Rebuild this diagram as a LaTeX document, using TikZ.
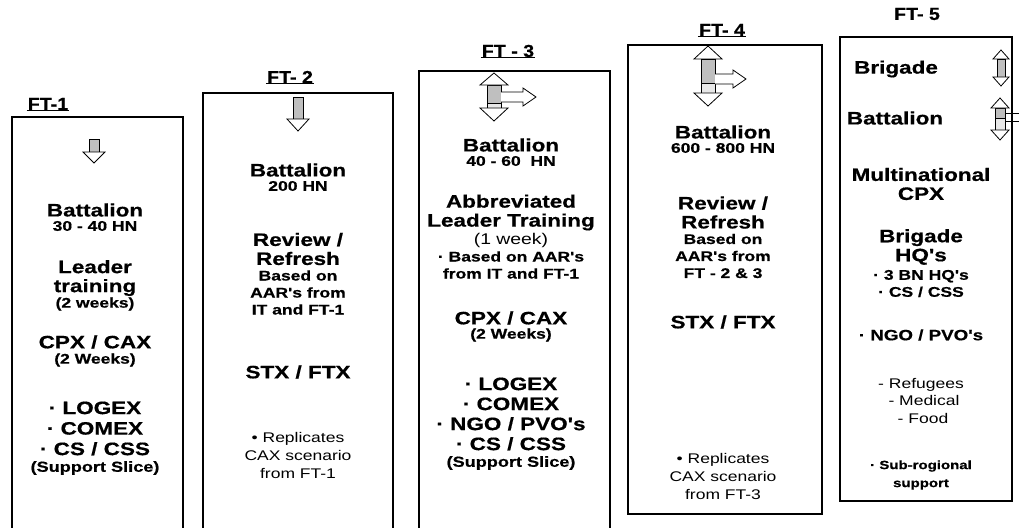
\documentclass[tikz,border=0pt]{standalone}
\usepackage{fontspec}
\setmainfont{Liberation Sans}
\newfontfamily\widesans[FakeStretch=1.25, BoldFeatures={FakeBold=0.6}]{Liberation Sans}
\newfontfamily\titlesans[FakeStretch=1.12, BoldFeatures={FakeBold=0.6}]{Liberation Sans}
\usetikzlibrary{calc}
\tikzset{
  frame/.style={draw=black, line width=1.2pt},
  ttl/.style={font=\titlesans\bfseries\fontsize{17.5}{19}\selectfont, inner sep=1pt},
  big/.style={font=\widesans\bfseries\fontsize{18}{19}\selectfont, align=center, inner sep=0pt},
  mid/.style={font=\widesans\bfseries\fontsize{14}{17}\selectfont, align=center, inner sep=0pt},
  reg/.style={font=\widesans\fontsize{14}{18}\selectfont, align=center, inner sep=0pt},
  shaftfill/.style={draw=black, line width=0.8pt, fill=gray!50},
  shaftlight/.style={draw=black, line width=0.8pt, fill=gray!18},
  headfill/.style={draw=black, line width=0.8pt, fill=white},
}
\newcommand{\ulttl}[4]{%
  \node[ttl] (#1) at (#2,#3) {#4};
  \draw[line width=0.9pt] ($(#1.south west)+(0,-1)$) -- ($(#1.south east)+(0,-1)$);
}
\begin{document}
\begin{tikzpicture}[x=1pt,y=-1pt]
\useasboundingbox (0,0) rectangle (1019,527);

% ---------- boxes ----------
\draw[frame] (12,540) -- (12,117) -- (183,117) -- (183,540);
\draw[frame] (203,540) -- (203,93) -- (393,93) -- (393,540);
\draw[frame] (419,540) -- (419,71) -- (610,71) -- (610,540);
\draw[frame] (628,514) -- (628,45) -- (822,45) -- (822,514) -- cycle;
\draw[frame] (840,501) -- (840,37) -- (1012,37) -- (1012,501) -- cycle;

% ---------- titles ----------
\ulttl{t1}{48}{104}{FT-1}
\ulttl{t2}{290}{77}{FT- 2}
\ulttl{t3}{508}{51}{FT - 3}
\ulttl{t4}{722}{30}{FT- 4}
\node[ttl] (t5) at (917,14) {FT- 5};

% ---------- arrows ----------
% FT-1 down arrow
\draw[shaftfill] (89,139) rectangle (99,152);
\draw[headfill] (83,152) -- (105,152) -- (94,163) -- cycle;
% FT-2 down arrow
\draw[shaftfill] (293,97) rectangle (303,119);
\draw[headfill] (287,119) -- (309,119) -- (298,131) -- cycle;
% FT-3 double arrow + right arrow
\draw[shaftfill] (487,85) rectangle (501,103);
\draw[shaftlight] (487,103) rectangle (501,108);
\draw[headfill] (480,85) -- (508,85) -- (494,73) -- cycle;
\draw[headfill] (480,108) -- (508,108) -- (494,121) -- cycle;
\draw[headfill] (501,92) -- (523,92) -- (523,88) -- (536,97) -- (523,106) -- (523,102) -- (501,102);
% FT-4 double arrow + right arrow
\draw[shaftfill] (701,59) rectangle (715,83);
\draw[shaftlight] (701,83) rectangle (715,93);
\draw[headfill] (694,59) -- (722,59) -- (708,46) -- cycle;
\draw[headfill] (694,93) -- (722,93) -- (708,106) -- cycle;
\draw[headfill] (715,74) -- (733,74) -- (733,70) -- (746,79) -- (733,88) -- (733,84) -- (715,84);
% FT-5 brigade arrow
\draw[shaftfill] (997,59) rectangle (1005,77);
\draw[headfill] (993,59) -- (1009,59) -- (1001,50) -- cycle;
\draw[headfill] (993,77) -- (1009,77) -- (1001,86) -- cycle;
% FT-5 battalion arrow
\draw[shaftfill] (995,108) rectangle (1005,118);
\draw[shaftlight] (995,118) rectangle (1005,130);
\draw[headfill] (991,108) -- (1009,108) -- (1000,98) -- cycle;
\draw[headfill] (991,130) -- (1009,130) -- (1000,140) -- cycle;
\draw[line width=0.8pt] (1005,113) -- (1019,113);
\draw[line width=0.8pt] (1005,121) -- (1019,121);

% ---------- FT-1 ----------
\node[big] (a1) at (95,210) {Battalion};
\node[mid] (a2) at (95,226) {30 - 40 HN};
\node[big] (a3) at (95,278) {Leader\\training};
\node[mid] (a4) at (95,304) {(2 weeks)};
\node[big] (a5) at (95,342) {CPX / CAX};
\node[mid] (a6) at (95,360) {(2 Weeks)};
\node[big, font=\widesans\bfseries\fontsize{18}{20.5}\selectfont] (a7) at (95,428.5) {· LOGEX\\· COMEX\\· CS / CSS};
\node[mid, font=\widesans\bfseries\fontsize{14.5}{17}\selectfont] (a8) at (95,468) {(Support Slice)};

% ---------- FT-2 ----------
\node[big] (b1) at (298,170) {Battalion};
\node[mid] (b2) at (298,186) {200 HN};
\node[big] (b3) at (298,249) {Review /\\Refresh};
\node[mid] (b4) at (298,292.5) {Based on\\AAR's from\\IT and FT-1};
\node[big] (b5) at (298,372) {STX / FTX};
\node[reg] (b6) at (298,455) {• Replicates\\CAX scenario\\from FT-1};

% ---------- FT-3 ----------
\node[big] (c1) at (511,145) {Battalion};
\node[mid] (c2) at (511,161) {40 - 60~ HN};
\node[big] (c3) at (511,212.5) {Abbreviated\\Leader Training};
\node[reg, font=\widesans\fontsize{15.5}{18}\selectfont] (c4) at (511,240) {(1 week)};
\node[mid] (c5) at (511,265) {· Based on AAR's\\from IT and FT-1};
\node[big] (c6) at (511,318) {CPX / CAX};
\node[mid] (c7) at (511,335) {(2 Weeks)};
\node[big, font=\widesans\bfseries\fontsize{18}{20}\selectfont] (c8) at (511,414) {· LOGEX\\· COMEX\\· NGO / PVO's\\· CS / CSS};
\node[mid, font=\widesans\bfseries\fontsize{14.5}{17}\selectfont] (c9) at (511,463) {(Support Slice)};

% ---------- FT-4 ----------
\node[big] (d1) at (723,132) {Battalion};
\node[mid] (d2) at (723,148) {600 - 800 HN};
\node[big] (d3) at (723,212.5) {Review /\\Refresh};
\node[mid] (d4) at (723,256) {Based on\\AAR's from\\FT - 2 \& 3};
\node[big] (d5) at (723,322) {STX / FTX};
\node[reg] (d6) at (723,476) {• Replicates\\CAX scenario\\from FT-3};

% ---------- FT-5 ----------
\node[big] (e1) at (896,69) {Brigade};
\node[big] (e2) at (895,118) {Battalion};
\node[big] (e3) at (921,184) {Multinational\\CPX};
\node[big] (e4) at (921,247) {Brigade\\HQ's};
\node[mid] (e5) at (921,283.5) {· 3 BN HQ's\\· CS / CSS};
\node[mid, font=\widesans\bfseries\fontsize{15}{17}\selectfont] (e6) at (921,335) {· NGO / PVO's};
\node[reg, font=\widesans\fontsize{14}{17.5}\selectfont] (e7) at (921,400.5) {- Refugees\\\hspace*{6pt}- Medical\\\hspace*{4pt}- Food};
\node[mid, font=\widesans\bfseries\fontsize{12}{18}\selectfont] (e8) at (921,475) {· Sub-rogional\\support};
\end{tikzpicture}
\end{document}
